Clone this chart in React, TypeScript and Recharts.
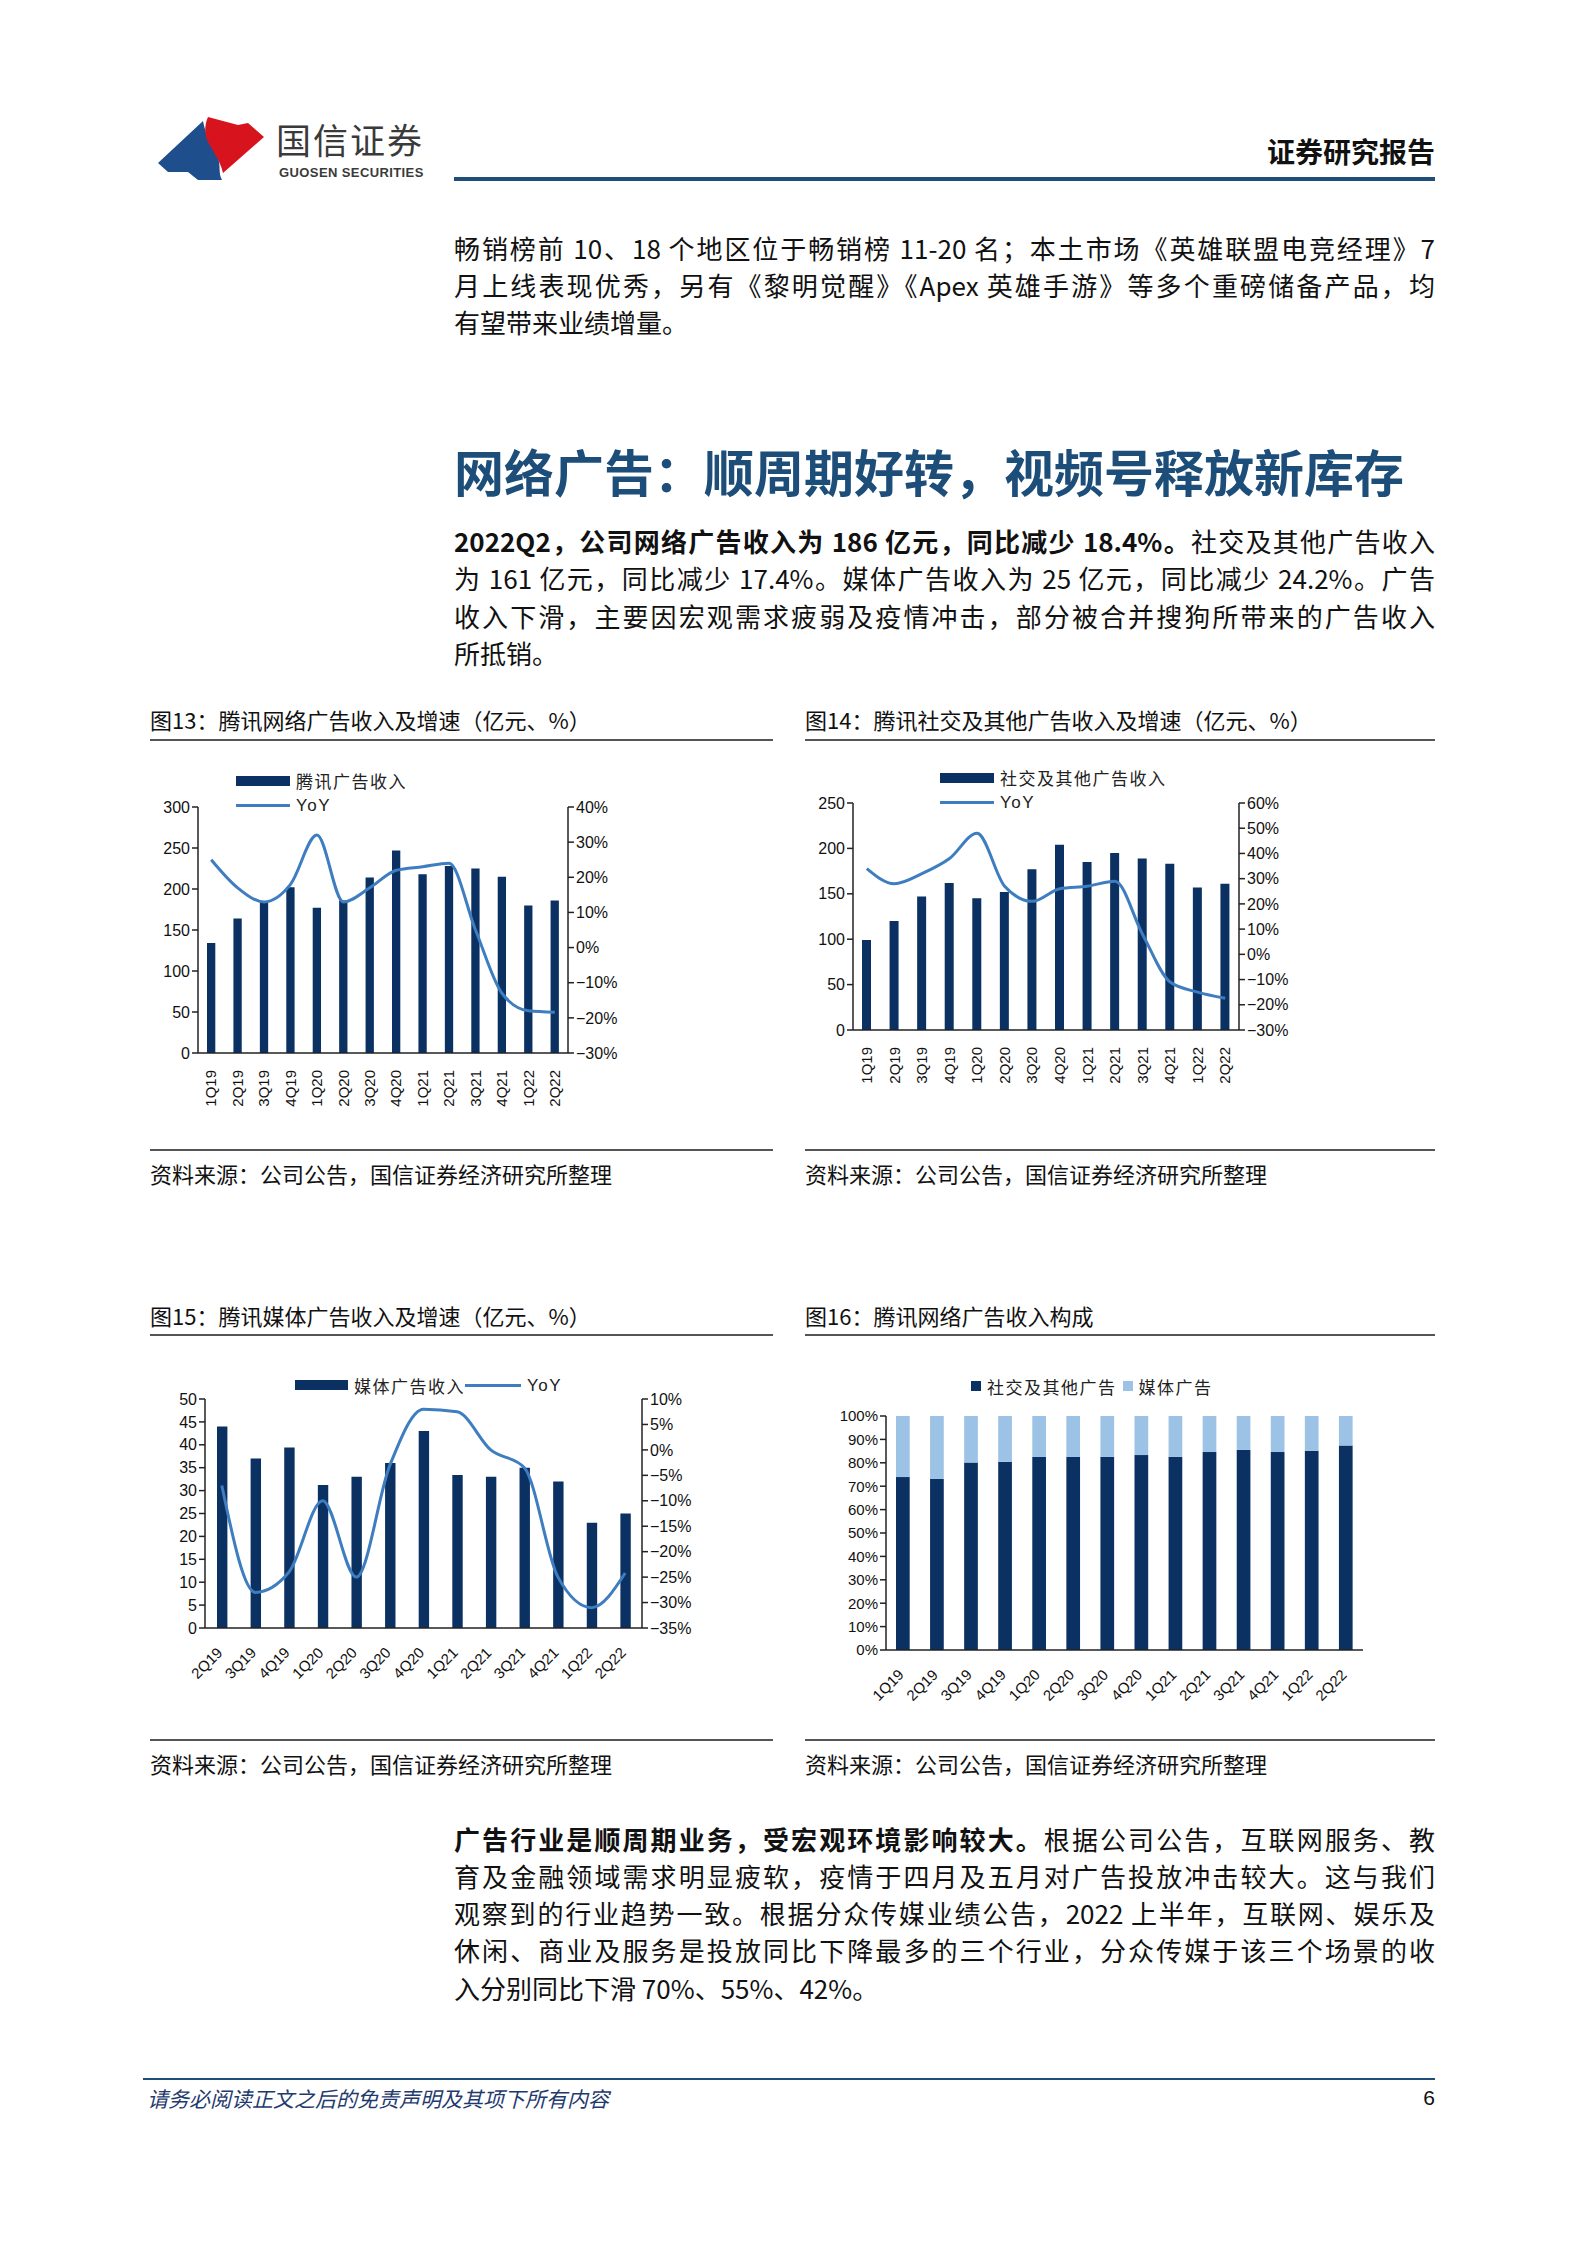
import React from "react";
import { ComposedChart, BarChart, Bar, Line, XAxis, YAxis, Legend } from "recharts";

const quarters = ["1Q19", "2Q19", "3Q19", "4Q19", "1Q20", "2Q20", "3Q20", "4Q20", "1Q21", "2Q21", "3Q21", "4Q21", "1Q22", "2Q22"];
const mediaQuarters = ["2Q19", "3Q19", "4Q19", "1Q20", "2Q20", "3Q20", "4Q20", "1Q21", "2Q21", "3Q21", "4Q21", "1Q22", "2Q22"];

// 图13 腾讯网络广告收入（亿元）及增速（%）
const adRevenue = [134, 164, 184, 202, 177, 186, 214, 247, 218, 228, 225, 215, 180, 186];
const adYoY = [25, 17, 13, 18, 32, 13, 17, 22, 23, 24, 5, -13, -18, -18.4];

// 图14 社交及其他广告收入
const socialRevenue = [99, 120, 147, 162, 145, 152, 177, 204, 185, 195, 189, 183, 157, 161];
const socialYoY = [34, 28, 32, 38, 48, 27, 21, 26, 27, 29, 8, -11, -15, -17.4];

// 图15 媒体广告收入
const mediaRevenue = [44, 37, 39.4, 31.2, 33, 36, 43, 33.4, 33, 35, 32, 23, 25];
const mediaYoY = [-7, -28, -24, -10, -25, -3, 8, 7.5, 0, -3.5, -25, -31, -24.2];

// 图16 收入构成（%）
const socialShare = [73.9, 73.1, 80.1, 80.5, 82.5, 82.5, 82.5, 83.3, 82.6, 84.6, 85.5, 84.6, 85.2, 87.4];
const mediaShare = [26.1, 26.9, 19.9, 19.5, 17.5, 17.5, 17.5, 16.7, 17.4, 15.4, 14.5, 15.4, 14.8, 12.6];

const ticks13L = [0, 50, 100, 150, 200, 250, 300];
const ticks13R = [-30, -20, -10, 0, 10, 20, 30, 40];
const ticks14L = [0, 50, 100, 150, 200, 250];
const ticks14R = [-30, -20, -10, 0, 10, 20, 30, 40, 50, 60];
const ticks15L = [0, 5, 10, 15, 20, 25, 30, 35, 40, 45, 50];
const ticks15R = [-35, -30, -25, -20, -15, -10, -5, 0, 5, 10];
const ticks16 = [0, 10, 20, 30, 40, 50, 60, 70, 80, 90, 100];

const data13 = quarters.map((q, i) => ({ q, rev: adRevenue[i], yoy: adYoY[i] }));
const data14 = quarters.map((q, i) => ({ q, rev: socialRevenue[i], yoy: socialYoY[i] }));
const data15 = mediaQuarters.map((q, i) => ({ q, rev: mediaRevenue[i], yoy: mediaYoY[i] }));
const data16 = quarters.map((q, i) => ({ q, social: socialShare[i], media: mediaShare[i] }));

const NAVY = "#0a3161";
const LINE = "#3e7dc0";
const LIGHT = "#9cc2e5";
const AX = "#222";
const CJK = '"Noto Sans CJK SC", sans-serif';
const LAT = '"Liberation Sans", Arial, sans-serif';

const pct = (v: number) => (v < 0 ? `\u2212${-v}%` : `${v}%`);
const edges = (n: number) => Array.from({ length: n + 1 }, (_, i) => i);
const tickStyle = { fill: "#111", fontSize: 16, fontFamily: LAT };

const VTick = (props: any) => {
  const { x, y, payload } = props;
  const cy = y + 9;
  return (
    <text x={x} y={cy} transform={`rotate(-90 ${x} ${cy})`} textAnchor="end" dy="0.35em" fontSize={15} fontFamily={LAT} fill="#111">
      {payload.value}
    </text>
  );
};

const DTick = (props: any) => {
  const { x, y, payload } = props;
  const cx = x - 2;
  const cy = y + 14;
  return (
    <text x={cx} y={cy} transform={`rotate(-45 ${cx} ${cy})`} textAnchor="end" dy="0.35em" fontSize={15} fontFamily={LAT} fill="#111">
      {payload.value}
    </text>
  );
};

type LegendOpts = { dir: "row" | "column"; rectW: number; rectH: number; lineW: number; rowH: number; gap: number; itemGap: number };

function makeLegend(o: LegendOpts, order: string[]) {
  return (props: any) => {
    const items = [...(props.payload || [])].sort((a: any, b: any) => order.indexOf(a.value) - order.indexOf(b.value));
    return (
      <div style={{ display: "flex", flexDirection: o.dir }}>
        {items.map((e: any) => (
          <div key={e.value} style={{ display: "flex", alignItems: "center", height: o.rowH, marginRight: o.dir === "row" ? o.itemGap : 0 }}>
            {e.type === "line" ? (
              <span style={{ display: "inline-block", width: o.lineW, height: 3, background: e.color }} />
            ) : (
              <span style={{ display: "inline-block", width: o.rectW, height: o.rectH, background: e.color }} />
            )}
            <span style={{ marginLeft: o.gap, fontSize: 17, letterSpacing: 1.5, fontFamily: e.value === "YoY" ? LAT : CJK, color: "#222", lineHeight: 1 }}>
              {e.value}
            </span>
          </div>
        ))}
      </div>
    );
  };
}

const twoRows: LegendOpts = { dir: "column", rectW: 54, rectH: 10, lineW: 54, rowH: 25, gap: 6, itemGap: 0 };
const legend13 = makeLegend(twoRows, ["腾讯广告收入", "YoY"]);
const legend14 = makeLegend(twoRows, ["社交及其他广告收入", "YoY"]);
const legend15 = makeLegend({ dir: "row", rectW: 53, rectH: 10, lineW: 56, rowH: 24, gap: 6, itemGap: 0 }, ["媒体广告收入", "YoY"]);
const legend16 = makeLegend({ dir: "row", rectW: 10, rectH: 10, lineW: 0, rowH: 24, gap: 6, itemGap: 6 }, ["社交及其他广告", "媒体广告"]);

function ComboChart(p: {
  data: any[];
  width: number;
  margin: any;
  leftW: number;
  rightW: number;
  lTicks: number[];
  rTicks: number[];
  barName: string;
  barSize: number;
  xTick: any;
  xHeight: number;
  legend: any;
  legendPos: { left: number; top: number };
}) {
  return (
    <ComposedChart width={p.width} height={390} data={p.data} margin={p.margin}>
      <XAxis xAxisId="edge" type="number" domain={[0, p.data.length]} ticks={edges(p.data.length)} allowDataOverflow tick={false} axisLine={false} tickLine={{ stroke: AX, strokeWidth: 1.5 }} tickSize={6} height={0} interval={0} />
      <XAxis dataKey="q" interval={0} tickLine={false} axisLine={{ stroke: AX, strokeWidth: 1.5 }} height={p.xHeight} tick={p.xTick} />
      <YAxis yAxisId="l" width={p.leftW} domain={[p.lTicks[0], p.lTicks[p.lTicks.length - 1]]} ticks={p.lTicks} interval={0} tick={tickStyle} tickLine={{ stroke: AX, strokeWidth: 1.5 }} axisLine={{ stroke: AX, strokeWidth: 1.5 }} tickSize={6} />
      <YAxis yAxisId="r" orientation="right" width={p.rightW} domain={[p.rTicks[0], p.rTicks[p.rTicks.length - 1]]} ticks={p.rTicks} interval={0} tickFormatter={pct} tick={tickStyle} tickLine={{ stroke: AX, strokeWidth: 1.5 }} axisLine={{ stroke: AX, strokeWidth: 1.5 }} tickSize={6} />
      <Legend layout="vertical" align="center" verticalAlign="middle" content={p.legend} wrapperStyle={{ left: p.legendPos.left, top: p.legendPos.top, width: "auto" }} />
      <Bar yAxisId="l" dataKey="rev" name={p.barName} legendType="rect" fill={NAVY} barSize={p.barSize} isAnimationActive={false} />
      <Line yAxisId="r" type="monotone" dataKey="yoy" name="YoY" legendType="line" stroke={LINE} strokeWidth={3} dot={false} activeDot={false} isAnimationActive={false} />
    </ComposedChart>
  );
}

const Abs = (p: { x: number; y: number; children: any }) => (
  <div style={{ position: "absolute", left: p.x, top: p.y }}>{p.children}</div>
);

const TextLine = (p: { y: number; children: any; last?: boolean }) => (
  <div
    style={{
      position: "absolute",
      left: 454,
      top: p.y - 19,
      width: 981,
      height: 38,
      lineHeight: "38px",
      fontSize: 26,
      textAlign: "justify",
      textAlignLast: p.last ? "left" : "justify",
      color: "#111",
    }}
  >
    {p.children}
  </div>
);

const HRule = (p: { x: number; y: number; w: number; t?: number; c?: string }) => (
  <div style={{ position: "absolute", left: p.x, top: p.y, width: p.w, height: p.t ?? 2, background: p.c ?? "#555" }} />
);

const Caption = (p: { x: number; y: number; children: any }) => (
  <div style={{ position: "absolute", left: p.x, top: p.y - 15, lineHeight: "30px", fontSize: 22, color: "#111", whiteSpace: "nowrap" }}>{p.children}</div>
);

export default function App() {
  return (
    <div style={{ position: "absolute", left: 0, top: 0, width: 1587, height: 2245, background: "#fff", fontFamily: CJK, overflow: "hidden" }}>
      {/* header */}
      <svg style={{ position: "absolute", left: 0, top: 0 }} width={300} height={200}>
        <path d="M158 163 L203 121 C206 138 214 147 218 158 C221 166 218 173 222 180 L198 180 L188 172 L168 172 Z" fill="#1f4e8c" />
        <path d="M208 117 L238 125 L248 123 L264 137 L223 173 C220 160 212 150 207 140 C204 132 205 124 208 117 Z" fill="#d7141e" />
      </svg>
      <div style={{ position: "absolute", left: 276, top: 119, fontSize: 35, lineHeight: "40px", color: "#3a3a3a", letterSpacing: 2 }}>国信证券</div>
      <div style={{ position: "absolute", left: 279, top: 166, fontSize: 13, lineHeight: "14px", color: "#3a3a3a", fontFamily: LAT, fontWeight: 700, letterSpacing: 0.4 }}>GUOSEN SECURITIES</div>
      <div style={{ position: "absolute", right: 1587 - 1435, top: 131, fontSize: 28, lineHeight: "40px", fontWeight: 700, color: "#111" }}>证券研究报告</div>
      <HRule x={454} y={177} w={981} t={4} c="#1f4e79" />

      {/* paragraph 1 */}
      <TextLine y={248}>畅销榜前 10、18 个地区位于畅销榜 11-20 名；本土市场《英雄联盟电竞经理》7</TextLine>
      <TextLine y={285}>月上线表现优秀，另有《黎明觉醒》《Apex 英雄手游》等多个重磅储备产品，均</TextLine>
      <TextLine y={322} last>有望带来业绩增量。</TextLine>

      {/* section heading */}
      <div style={{ position: "absolute", left: 454, top: 440, fontSize: 50, lineHeight: "60px", fontWeight: 700, color: "#1d4e7a", whiteSpace: "nowrap" }}>
        网络广告：顺周期好转，视频号释放新库存
      </div>

      {/* paragraph 2 */}
      <TextLine y={541}>
        <b>2022Q2，公司网络广告收入为 186 亿元，同比减少 18.4%。</b>社交及其他广告收入
      </TextLine>
      <TextLine y={578}>为 161 亿元，同比减少 17.4%。媒体广告收入为 25 亿元，同比减少 24.2%。广告</TextLine>
      <TextLine y={616}>收入下滑，主要因宏观需求疲弱及疫情冲击，部分被合并搜狗所带来的广告收入</TextLine>
      <TextLine y={653} last>所抵销。</TextLine>

      {/* figure 13 */}
      <Caption x={150} y={719}>图13：腾讯网络广告收入及增速（亿元、%）</Caption>
      <HRule x={150} y={739} w={623} />
      <Abs x={150} y={750}>
        <ComboChart
          data={data13}
          width={623}
          margin={{ top: 57, right: 150, bottom: 37, left: 0 }}
          leftW={48}
          rightW={55}
          lTicks={ticks13L}
          rTicks={ticks13R}
          barName="腾讯广告收入"
          barSize={8.3}
          xTick={<VTick />}
          xHeight={50}
          legend={legend13}
          legendPos={{ left: 86, top: 18 }}
        />
      </Abs>
      <HRule x={150} y={1149} w={623} />
      <Caption x={150} y={1173}>资料来源：公司公告，国信证券经济研究所整理</Caption>

      {/* figure 14 */}
      <Caption x={805} y={719}>图14：腾讯社交及其他广告收入及增速（亿元、%）</Caption>
      <HRule x={805} y={739} w={630} />
      <Abs x={805} y={750}>
        <ComboChart
          data={data14}
          width={630}
          margin={{ top: 53, right: 141, bottom: 60, left: 0 }}
          leftW={48}
          rightW={55}
          lTicks={ticks14L}
          rTicks={ticks14R}
          barName="社交及其他广告收入"
          barSize={9}
          xTick={<VTick />}
          xHeight={50}
          legend={legend14}
          legendPos={{ left: 135, top: 15 }}
        />
      </Abs>
      <HRule x={805} y={1149} w={630} />
      <Caption x={805} y={1173}>资料来源：公司公告，国信证券经济研究所整理</Caption>

      {/* figure 15 */}
      <Caption x={150} y={1315}>图15：腾讯媒体广告收入及增速（亿元、%）</Caption>
      <HRule x={150} y={1334} w={623} />
      <Abs x={150} y={1345}>
        <ComboChart
          data={data15}
          width={623}
          margin={{ top: 54, right: 76, bottom: 47, left: 0 }}
          leftW={55}
          rightW={55}
          lTicks={ticks15L}
          rTicks={ticks15R}
          barName="媒体广告收入"
          barSize={10.4}
          xTick={<DTick />}
          xHeight={60}
          legend={legend15}
          legendPos={{ left: 145, top: 28 }}
        />
      </Abs>
      <HRule x={150} y={1739} w={623} />
      <Caption x={150} y={1763}>资料来源：公司公告，国信证券经济研究所整理</Caption>

      {/* figure 16 */}
      <Caption x={805} y={1315}>图16：腾讯网络广告收入构成</Caption>
      <HRule x={805} y={1334} w={630} />
      <Abs x={805} y={1345}>
        <BarChart width={630} height={390} data={data16} margin={{ top: 71, right: 72, bottom: 25, left: 25 }}>
          <XAxis xAxisId="edge" type="number" domain={[0, data16.length]} ticks={edges(data16.length)} allowDataOverflow tick={false} axisLine={false} tickLine={{ stroke: AX, strokeWidth: 1.5 }} tickSize={6} height={0} interval={0} />
          <XAxis dataKey="q" interval={0} tickLine={false} axisLine={{ stroke: AX, strokeWidth: 1.5 }} height={60} tick={<DTick />} />
          <YAxis width={56} domain={[0, 100]} ticks={ticks16} interval={0} tickFormatter={(v: number) => `${v}%`} tick={{ ...tickStyle, fontSize: 15 }} tickLine={{ stroke: AX, strokeWidth: 1.5 }} axisLine={{ stroke: AX, strokeWidth: 1.5 }} tickSize={6} />
          <Legend layout="vertical" align="center" verticalAlign="middle" content={legend16} wrapperStyle={{ left: 166, top: 29, width: "auto" }} />
          <Bar dataKey="social" name="社交及其他广告" stackId="s" fill={NAVY} barSize={13.7} legendType="rect" isAnimationActive={false} />
          <Bar dataKey="media" name="媒体广告" stackId="s" fill={LIGHT} barSize={13.7} legendType="rect" isAnimationActive={false} />
        </BarChart>
      </Abs>
      <HRule x={805} y={1739} w={630} />
      <Caption x={805} y={1763}>资料来源：公司公告，国信证券经济研究所整理</Caption>

      {/* paragraph 3 */}
      <TextLine y={1839}>
        <b>广告行业是顺周期业务，受宏观环境影响较大。</b>根据公司公告，互联网服务、教
      </TextLine>
      <TextLine y={1876}>育及金融领域需求明显疲软，疫情于四月及五月对广告投放冲击较大。这与我们</TextLine>
      <TextLine y={1913}>观察到的行业趋势一致。根据分众传媒业绩公告，2022 上半年，互联网、娱乐及</TextLine>
      <TextLine y={1950}>休闲、商业及服务是投放同比下降最多的三个行业，分众传媒于该三个场景的收</TextLine>
      <TextLine y={1988} last>入分别同比下滑 70%、55%、42%。</TextLine>

      {/* footer */}
      <HRule x={143} y={2078} w={1292} t={2} c="#1f4e79" />
      <div style={{ position: "absolute", left: 147, top: 2085, fontSize: 21, lineHeight: "26px", fontStyle: "italic", color: "#1f3b6e", whiteSpace: "nowrap" }}>
        请务必阅读正文之后的免责声明及其项下所有内容
      </div>
      <div style={{ position: "absolute", right: 1587 - 1435, top: 2085, fontSize: 21, lineHeight: "26px", fontFamily: LAT, color: "#111" }}>6</div>
    </div>
  );
}
